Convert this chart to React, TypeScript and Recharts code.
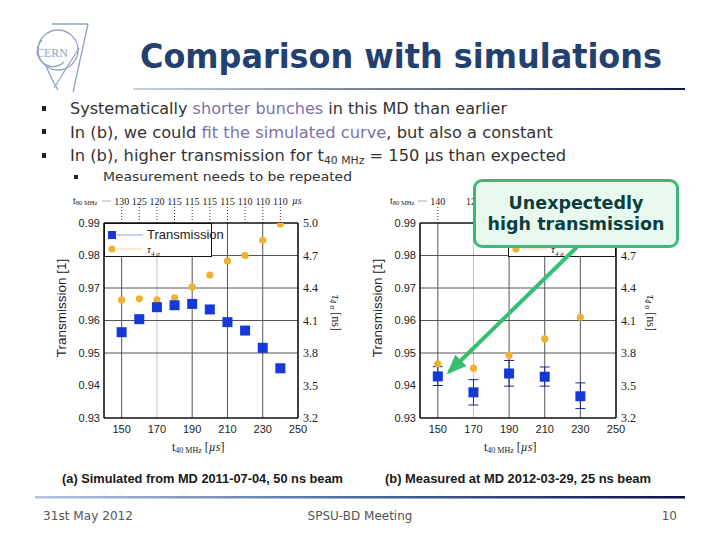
import React from "react";
import { ComposedChart, Scatter, XAxis, YAxis, ReferenceLine, ErrorBar } from "recharts";

// (a) simulated, MD 2011-07-04
const simT = [150, 160, 170, 180, 190, 200, 210, 220, 230, 240];
const simTrans = [0.9564, 0.9604, 0.9641, 0.9647, 0.9651, 0.9634, 0.9595, 0.9569, 0.9516, 0.9453];
const simTau = [4.29, 4.3, 4.29, 4.31, 4.41, 4.52, 4.65, 4.7, 4.84, 4.99];
const simT80 = ["130", "125", "120", "115", "115", "115", "115", "110", "110", "110"];

// (b) measured, MD 2012-03-29
const measT = [150, 170, 190, 210, 230];
const measTrans = [0.9428, 0.9379, 0.9437, 0.9427, 0.9367];
const measErr = [
  [0.0028, 0.003],
  [0.0039, 0.0039],
  [0.0039, 0.004],
  [0.0029, 0.003],
  [0.0038, 0.0041],
];
const measTau = [3.7, 3.66, 3.78, 3.93, 4.13];
const measT80 = ["140", "125", "120", "115", "110"];
// only these top ticks are not hidden by the callout box
const measTopShown = [150, 170];

const xTicks = [150, 170, 190, 210, 230, 250];
const transTicks = [0.93, 0.94, 0.95, 0.96, 0.97, 0.98, 0.99];
const tauTicks = [3.2, 3.5, 3.8, 4.1, 4.4, 4.7, 5.0];
const tauTicksB = [3.2, 3.5, 3.8, 4.1, 4.4, 4.7];
const gridX = [150, 170, 190, 210, 230];
const gridY = [0.95, 0.96, 0.97, 0.98];

const BLUE = "#1538d8";
const GOLD = "#efb132";
const AXIS = { stroke: "#111", strokeWidth: 1.6 };
const SANS = { fill: "#222", fontSize: 11, fontFamily: "Liberation Sans, Arial, sans-serif" };
const SERIF = { fill: "#222", fontSize: 12, fontFamily: "Liberation Serif, serif" };
const SERIF_SM = { fill: "#222", fontSize: 10, fontFamily: "Liberation Serif, serif" };

const simRows = simT.map((t, i) => ({ t, trans: simTrans[i], tau: simTau[i] }));
const measRows = measT.map((t, i) => ({ t, trans: measTrans[i], tau: measTau[i], err: measErr[i] }));

const Square = (p: any) => <rect x={p.cx - 5} y={p.cy - 5} width={10} height={10} fill={BLUE} />;
const Dot = (p: any) => <circle cx={p.cx} cy={p.cy} r={3.6} fill={GOLD} />;

function Panel({ rows, topTicks, topKeys, topLabels, rightTicks, width, hasErr }: any) {
  const topFmt = (v: number) => topLabels[topKeys.indexOf(v)] ?? "";
  return (
    <ComposedChart width={width} height={265} data={rows} margin={{ top: 0, right: 0, bottom: 0, left: 0 }}>
      <XAxis
        xAxisId="b"
        dataKey="t"
        type="number"
        domain={[140, 250]}
        ticks={xTicks}
        allowDataOverflow
        tickLine={false}
        tickSize={6}
        tickMargin={1}
        axisLine={AXIS}
        tick={SANS}
        height={32}
      />
      <XAxis
        xAxisId="top"
        orientation="top"
        dataKey="t"
        type="number"
        domain={[140, 250]}
        ticks={topTicks}
        interval={0}
        allowDataOverflow
        tickFormatter={topFmt}
        tickSize={16}
        tickMargin={2}
        tickLine={{ stroke: "#333", strokeDasharray: "1 2" }}
        axisLine={AXIS}
        tick={SERIF_SM}
        height={38}
      />
      <YAxis
        yAxisId="l"
        type="number"
        domain={[0.93, 0.99]}
        ticks={transTicks}
        interval={0}
        allowDataOverflow
        tickFormatter={(v: number) => v.toFixed(2)}
        width={64}
        tickLine={false}
        tickSize={2}
        tickMargin={2}
        axisLine={AXIS}
        tick={SANS}
      />
      <YAxis
        yAxisId="r"
        orientation="right"
        type="number"
        domain={[3.2, 5.0]}
        ticks={rightTicks}
        interval={0}
        allowDataOverflow
        tickFormatter={(v: number) => v.toFixed(1)}
        width={52}
        tickLine={false}
        tickSize={3}
        tickMargin={2}
        axisLine={AXIS}
        tick={SERIF}
      />
      {gridX.map((x) => (
        <ReferenceLine key={"gx" + x} xAxisId="b" yAxisId="l" x={x} stroke={x === 170 ? "#c4c4c4" : "#555"} strokeWidth={1} />
      ))}
      {gridY.map((y) => (
        <ReferenceLine key={"gy" + y} xAxisId="b" yAxisId="l" y={y} stroke="#555" strokeWidth={1} />
      ))}
      <Scatter xAxisId="b" yAxisId="r" dataKey="tau" shape={Dot} isAnimationActive={false} />
      <Scatter xAxisId="b" yAxisId="l" dataKey="trans" shape={Square} isAnimationActive={false}>
        {hasErr && <ErrorBar dataKey="err" direction="y" width={5} stroke="#1a2a8a" strokeWidth={1} />}
      </Scatter>
    </ComposedChart>
  );
}

function Legend({ left, top, width, textX }: any) {
  const row = (y: number, marker: React.ReactNode, lineColor: string, label: React.ReactNode) => (
    <div style={{ position: "absolute", left: 0, top: y, width: "100%", height: 14 }}>
      <svg width={textX} height={14} style={{ position: "absolute", left: 0, top: 0 }}>
        <line x1={12} y1={7} x2={textX - 4} y2={7} stroke={lineColor} strokeWidth={1} />
        {marker}
      </svg>
      <span style={{ position: "absolute", left: textX, top: 0, lineHeight: "14px", fontSize: 13, color: "#222" }}>{label}</span>
    </div>
  );
  return (
    <div
      style={{
        position: "absolute",
        left,
        top,
        width,
        height: 34,
        border: "1.6px solid #111",
        background: "#fff",
        boxSizing: "border-box",
        fontFamily: "Liberation Sans, Arial, sans-serif",
      }}
    >
      {row(4, <rect x={3} y={3} width={8} height={8} fill={BLUE} />, "#8fa0e6", "Transmission")}
      {row(18, <circle cx={7} cy={7} r={3.6} fill={GOLD} />, "#f5d49a", (
        <span style={{ fontFamily: "Liberation Serif, serif", fontStyle: "italic", fontSize: 11 }}>
          τ<sub style={{ fontSize: 7 }}>4 σ</sub>
        </span>
      ))}
    </div>
  );
}

function Slide() {
  const body = "DejaVu Sans, Verdana, sans-serif";
  const serif = "Liberation Serif, serif";
  return (
    <svg width={720} height={540} style={{ position: "absolute", left: 0, top: 0 }}>
      <defs>
        <linearGradient id="gTitle" x1="0" x2="1" y1="0" y2="0">
          <stop offset="0" stopColor="#c9d1dc" />
          <stop offset="1" stopColor="#0d1848" />
        </linearGradient>
        <linearGradient id="gFoot" x1="0" x2="1" y1="0" y2="0">
          <stop offset="0" stopColor="#b3c5df" />
          <stop offset="0.5" stopColor="#4a6a9c" />
          <stop offset="1" stopColor="#0a1048" />
        </linearGradient>
      </defs>

      {/* CERN logo */}
      <g stroke="#8ea3c6" fill="none" strokeWidth={1.3}>
        <circle cx={58} cy={50} r={20} />
        <path d="M 42 40 A 13 13 0 1 0 64 62" />
        <line x1={52} y1={24} x2={88} y2={24} />
        <line x1={88} y1={24} x2={73} y2={92} />
        <line x1={79} y1={48} x2={54} y2={88} />
        <path d="M 46 66 Q 52 80 58 90" />
      </g>
      <text x={52} y={57} textAnchor="middle" fontSize={12} fontFamily={serif} fill="#8ea3c6">CERN</text>

      {/* title */}
      <text x={140} y={68} fontSize={33} fontWeight="bold" fontFamily={body} fill="#24406e" textLength={522} lengthAdjust="spacingAndGlyphs">
        Comparison with simulations
      </text>
      <rect x={133} y={88} width={552} height={2} fill="url(#gTitle)" />

      {/* bullets */}
      <g fill="#222">
        <rect x={42} y={106} width={4} height={5} />
        <rect x={42} y={129} width={4} height={5} />
        <rect x={42} y={153} width={4} height={5} />
        <rect x={74} y={175} width={4} height={4} />
      </g>
      <g fontFamily={body} fontSize={15} fill="#333">
        <text x={70} y={114} textLength={437} lengthAdjust="spacingAndGlyphs">
          Systematically <tspan fill="#7d72a8">shorter bunches</tspan> in this MD than earlier
        </text>
        <text x={70} y={138} textLength={483} lengthAdjust="spacingAndGlyphs">
          In (b), we could <tspan fill="#7d72a8">fit the simulated curve</tspan>, but also a constant
        </text>
        <text x={70} y={161} textLength={496} lengthAdjust="spacingAndGlyphs">
          In (b), higher transmission for t<tspan fontSize={10} dy={3}>40 MHz</tspan>
          <tspan dy={-3}> = 150 µs than expected</tspan>
        </text>
        <text x={103} y={181} fontSize={13} textLength={249} lengthAdjust="spacingAndGlyphs">
          Measurement needs to be repeated
        </text>
      </g>

      {/* top axis captions */}
      <g fontFamily={serif} fill="#222" fontSize={10}>
        <text x={73} y={204}>t<tspan fontSize={6.5} dy={1}>80 MHz</tspan></text>
        <line x1={102} y1={201} x2={111} y2={201} stroke="#999" strokeWidth={0.8} />
        <text x={292} y={204} fontStyle="italic">µs</text>
        <text x={390} y={204}>t<tspan fontSize={6.5} dy={1}>80 MHz</tspan></text>
        <line x1={418} y1={201} x2={427} y2={201} stroke="#999" strokeWidth={0.8} />
      </g>

      {/* axis titles */}
      <g fontFamily="Liberation Sans, Arial, sans-serif" fontSize={13.5} fill="#222">
        <text transform="translate(66 308) rotate(-90)" textAnchor="middle">Transmission [1]</text>
        <text transform="translate(382 308) rotate(-90)" textAnchor="middle">Transmission [1]</text>
      </g>
      <g fontFamily={serif} fontSize={12} fill="#222">
        <text transform="translate(332 313) rotate(90)" textAnchor="middle">
          <tspan fontStyle="italic">τ</tspan><tspan fontSize={8} dy={2} fontStyle="italic">4 σ</tspan><tspan dy={-2}> [ns]</tspan>
        </text>
        <text transform="translate(647 313) rotate(90)" textAnchor="middle">
          <tspan fontStyle="italic">τ</tspan><tspan fontSize={8} dy={2} fontStyle="italic">4 σ</tspan><tspan dy={-2}> [ns]</tspan>
        </text>
        <text x={172} y={451}>t<tspan fontSize={8} dy={2}>40 MHz</tspan><tspan dy={-2}> [<tspan fontStyle="italic">µs</tspan>]</tspan></text>
        <text x={484} y={451}>t<tspan fontSize={8} dy={2}>40 MHz</tspan><tspan dy={-2}> [<tspan fontStyle="italic">µs</tspan>]</tspan></text>
      </g>

      {/* captions */}
      <g fontFamily="Liberation Sans Narrow, Liberation Sans, Arial, sans-serif" fontSize={13.5} fontWeight="bold" fill="#1a1a1a">
        <text x={62} y={483} textLength={281} lengthAdjust="spacingAndGlyphs">(a) Simulated from MD 2011-07-04, 50 ns beam</text>
        <text x={385} y={483} textLength={266} lengthAdjust="spacingAndGlyphs">(b) Measured at MD 2012-03-29, 25 ns beam</text>
      </g>

      {/* footer */}
      <rect x={35} y={496} width={650} height={2.5} fill="url(#gFoot)" />
      <g fontFamily={body} fontSize={12} fill="#555">
        <text x={43} y={520} textLength={90} lengthAdjust="spacingAndGlyphs">31st May 2012</text>
        <text x={360} y={520} textAnchor="middle">SPSU-BD Meeting</text>
        <text x={677} y={520} textAnchor="end">10</text>
      </g>
    </svg>
  );
}

export default function App() {
  return (
    <div style={{ position: "absolute", left: 0, top: 0, width: 720, height: 540, background: "#fff", overflow: "hidden" }}>
      <Slide />
      <div style={{ position: "absolute", left: 40, top: 185 }}>
        <Panel rows={simRows} topTicks={simT} topKeys={simT} topLabels={simT80} rightTicks={tauTicks} width={310} />
      </div>
      <div style={{ position: "absolute", left: 356, top: 185 }}>
        <Panel rows={measRows} topTicks={measTopShown} topKeys={measT} topLabels={measT80} rightTicks={tauTicksB} width={312} hasErr />
      </div>
      <Legend left={104} top={223} width={108} textX={42} />
      <Legend left={508} top={223} width={108} textX={42} />

      {/* annotation */}
      <div
        style={{
          position: "absolute",
          left: 473,
          top: 179,
          width: 206,
          height: 69,
          boxSizing: "border-box",
          border: "3px solid #3cb878",
          borderRadius: 9,
          background: "#e9f8ef",
          color: "#0b3f3f",
          fontFamily: "DejaVu Sans, Verdana, sans-serif",
          fontWeight: "bold",
          fontSize: 17.5,
          lineHeight: "21px",
          textAlign: "center",
          paddingTop: 11,
        }}
      >
        Unexpectedly
        <br />
        high transmission
      </div>
      <svg width={720} height={540} style={{ position: "absolute", left: 0, top: 0, pointerEvents: "none" }}>
        <defs>
          <marker id="ah" markerWidth="5" markerHeight="4" refX="4.2" refY="2" orient="auto" markerUnits="strokeWidth">
            <path d="M0,0 L5,2 L0,4 Z" fill="#35c070" />
          </marker>
        </defs>
        <line x1={577} y1={247} x2={449} y2={372} stroke="#35c070" strokeWidth={4} markerEnd="url(#ah)" />
      </svg>
    </div>
  );
}
